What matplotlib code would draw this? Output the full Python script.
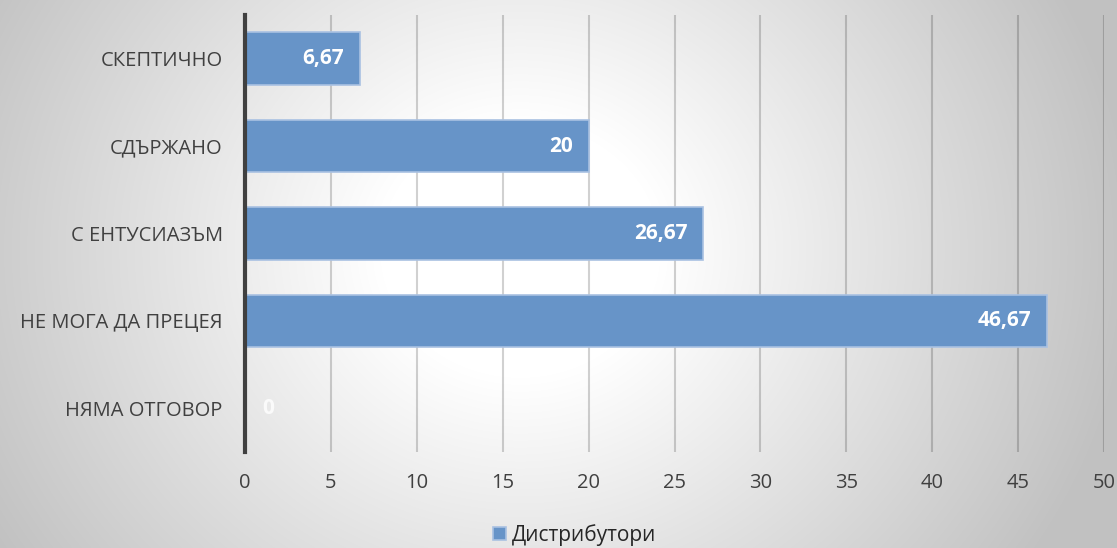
import numpy as np
import matplotlib
matplotlib.use("Agg")
import matplotlib.pyplot as plt

plt.rcParams['font.family'] = ['Open Sans', 'DejaVu Sans']

# answers, top to bottom
categories = ["СКЕПТИЧНО", "СДЪРЖАНО", "С ЕНТУСИАЗЪМ", "НЕ МОГА ДА ПРЕЦЕЯ", "НЯМА ОТГОВОР"]
values = [6.67, 20, 26.67, 46.67, 0]
labels = ["6,67", "20", "26,67", "46,67", "0"]
series_name = "Дистрибутори"

W, H = 1117, 548
fig = plt.figure(figsize=(W / 100, H / 100), dpi=100)

# soft radial background, white in the middle, grey at the corners
bg = fig.add_axes([0, 0, 1, 1], zorder=0)
yy, xx = np.mgrid[0:H, 0:W]
r = np.hypot(xx - 520, (yy - 250) * 1.1)
t = np.clip((r - 140) / 470, 0, 1)
shade = 1 - 0.24 * t
bg.imshow(np.dstack([shade] * 3), aspect="auto", extent=[0, 1, 0, 1], origin="upper")
bg.axis("off")

ax = fig.add_axes([245 / W, 1 - 452 / H, (1104 - 245) / W, (452 - 15) / H], zorder=1)
ax.patch.set_alpha(0)

ypos = np.arange(len(categories))
bars = ax.barh(ypos, values, height=0.6, color="#6794c8", edgecolor="#a9c1e2",
               linewidth=1.2, zorder=3)

for b, v, lab in zip(bars, values, labels):
    if v > 0:
        ax.text(v - 0.9, b.get_y() + b.get_height() / 2, lab, ha="right", va="center",
                color="white", fontsize=15, fontweight="bold", zorder=4)
    else:
        ax.text(1.0, b.get_y() + b.get_height() / 2, lab, ha="left", va="center",
                color="white", alpha=0.8, fontsize=15, fontweight="bold", zorder=4)

ax.set_xlim(0, 50)
ax.set_ylim(len(categories) - 0.5, -0.5)
ax.set_xticks(np.arange(0, 51, 5))
ax.set_yticks(ypos)
ax.set_yticklabels(categories)
ax.tick_params(axis="both", length=0, labelsize=14.5, colors="#404040")
ax.tick_params(axis="x", pad=15)
ax.tick_params(axis="y", pad=16)
ax.grid(axis="x", color="black", alpha=0.18, linewidth=1.5, zorder=1)
for s in ["top", "right", "bottom"]:
    ax.spines[s].set_visible(False)
ax.spines["left"].set_color("#404040")
ax.spines["left"].set_linewidth(3)
ax.spines["left"].set_zorder(5)

leg = fig.legend([bars[0]], [series_name], loc="center", bbox_to_anchor=(575 / W, 1 - 535 / H),
                 frameon=False, fontsize=15, handlelength=0.6, handleheight=0.6,
                 handletextpad=0.3, labelcolor="#262626")

fig.savefig("out.png", dpi=100)
